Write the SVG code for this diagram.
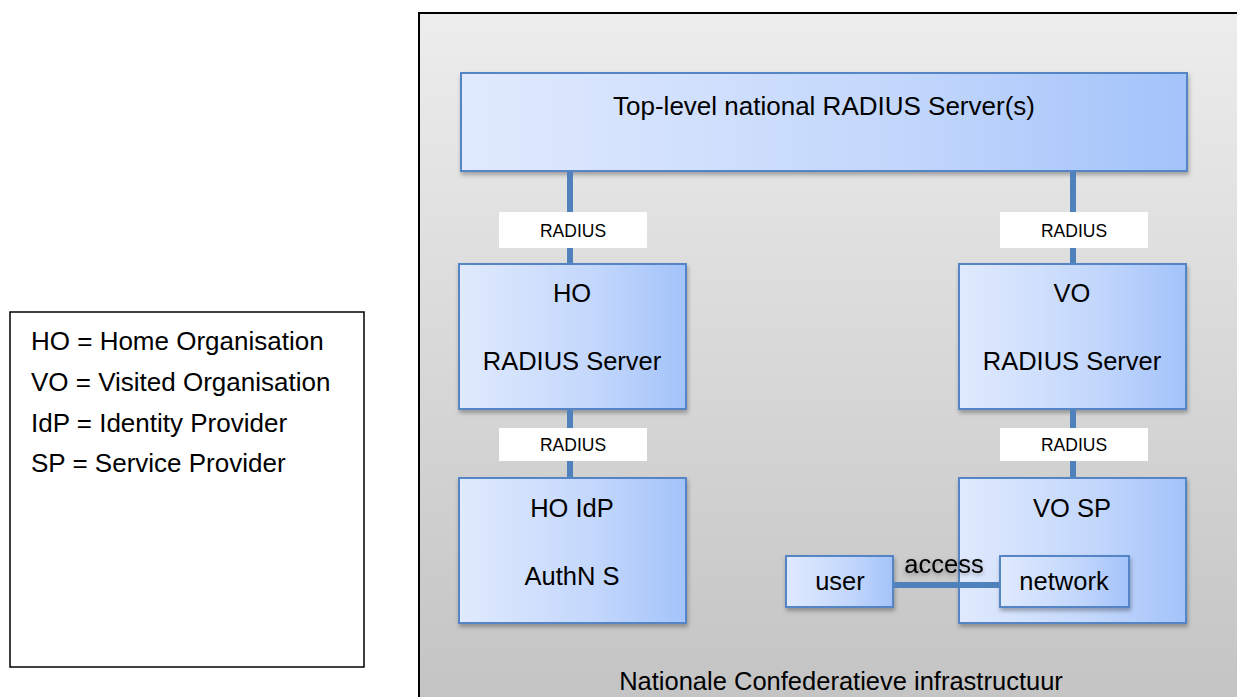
<svg xmlns="http://www.w3.org/2000/svg" width="1237" height="697" viewBox="0 0 1237 697">
<defs>
<linearGradient id="bg" x1="0" y1="0" x2="0" y2="1">
<stop offset="0" stop-color="#ededed"/>
<stop offset="1" stop-color="#c3c3c3"/>
</linearGradient>
<linearGradient id="blue" x1="0" y1="0" x2="1" y2="0">
<stop offset="0" stop-color="#e0eafd"/>
<stop offset="0.6" stop-color="#c3d7fc"/>
<stop offset="1" stop-color="#a3c3fa"/>
</linearGradient>
<filter id="sh" x="-10%" y="-10%" width="125%" height="130%">
<feDropShadow dx="1" dy="3" stdDeviation="2" flood-color="#000" flood-opacity="0.3"/>
</filter>
<filter id="tsh" x="-20%" y="-30%" width="140%" height="160%">
<feDropShadow dx="0" dy="2" stdDeviation="2" flood-color="#000" flood-opacity="0.35"/>
</filter>
</defs>
<style>
.node{fill:url(#blue);stroke:#5585c4;stroke-width:2;filter:url(#sh)}
.t{font-family:"Liberation Sans",Arial,sans-serif;font-size:25.5px;fill:#000;text-anchor:middle}
.lbl{fill:#fff}
.lt{font-family:"Liberation Sans",Arial,sans-serif;font-size:17.5px;fill:#000;text-anchor:middle}
.con{stroke:#4f81bd;stroke-width:6;fill:none}
.leg{font-family:"Liberation Sans",Arial,sans-serif;font-size:26px;fill:#000}
</style>
<rect width="1237" height="697" fill="#fff"/>
<g id="legend">
<rect x="10" y="312" width="354" height="355" fill="#fff" stroke="#000" stroke-width="1.5"/>
<text class="leg" x="31" y="350">HO = Home Organisation</text>
<text class="leg" x="31" y="391">VO = Visited Organisation</text>
<text class="leg" x="31" y="432">IdP = Identity Provider</text>
<text class="leg" x="31" y="472">SP = Service Provider</text>
</g>
<g id="infrastructure">
<rect x="419" y="13" width="830" height="700" fill="url(#bg)" stroke="#000" stroke-width="2"/>
<text class="t" x="841" y="690">Nationale Confederatieve infrastructuur</text>
</g>
<g id="top-server">
<rect class="node" x="461" y="73" width="726" height="98"/>
<text class="t" x="824" y="115" style="font-size:26px">Top-level national RADIUS Server(s)</text>
</g>
<g id="ho-radius">
<rect class="node" x="459" y="264" width="227" height="145"/>
<text class="t" x="572" y="302">HO</text>
<text class="t" x="572" y="370">RADIUS Server</text>
</g>
<g id="vo-radius">
<rect class="node" x="959" y="264" width="227" height="145"/>
<text class="t" x="1072" y="302">VO</text>
<text class="t" x="1072" y="370">RADIUS Server</text>
</g>
<g id="ho-idp">
<rect class="node" x="459" y="478" width="227" height="145"/>
<text class="t" x="572" y="517">HO IdP</text>
<text class="t" x="572" y="585">AuthN S</text>
</g>
<g id="vo-sp">
<rect class="node" x="959" y="478" width="227" height="145"/>
<text class="t" x="1072" y="517">VO SP</text>
</g>
<g id="user">
<rect class="node" x="786" y="556" width="107" height="51"/>
<text class="t" x="840" y="590">user</text>
</g>
<g id="network">
<rect class="node" x="1000" y="556" width="129" height="51"/>
<text class="t" x="1064" y="590">network</text>
</g>
<g id="connectors">
<line class="con" x1="570" y1="172" x2="570" y2="263"/>
<line class="con" x1="570" y1="410" x2="570" y2="477"/>
<line class="con" x1="1073" y1="172" x2="1073" y2="263"/>
<line class="con" x1="1073" y1="410" x2="1073" y2="477"/>
<line class="con" x1="894" y1="585" x2="999" y2="585"/>
<rect class="lbl" x="499" y="212" width="148" height="36"/>
<text class="lt" x="573" y="237">RADIUS</text>
<rect class="lbl" x="1000" y="212" width="148" height="36"/>
<text class="lt" x="1074" y="237">RADIUS</text>
<rect class="lbl" x="499" y="428" width="148" height="33"/>
<text class="lt" x="573" y="451">RADIUS</text>
<rect class="lbl" x="1000" y="428" width="148" height="33"/>
<text class="lt" x="1074" y="451">RADIUS</text>
<text class="t" x="944" y="573" style="filter:url(#tsh)">access</text>
</g>
</svg>
